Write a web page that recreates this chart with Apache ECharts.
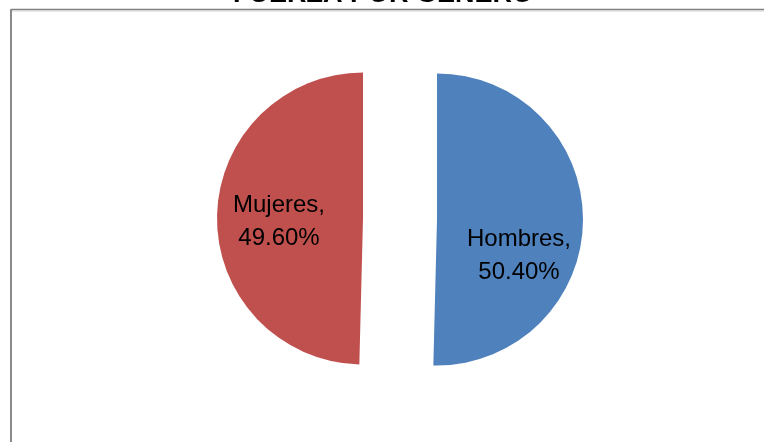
<!DOCTYPE html>
<html>
<head>
<meta charset="utf-8">
<script src="https://cdn.jsdelivr.net/npm/echarts@6/dist/echarts.min.js"></script>
<style>
html,body{margin:0;padding:0;background:#fff;}
#c{width:764px;height:442px;}
</style>
</head>
<body>
<div id="c"></div>
<script>
const titleText = 'FUERZA POR GÉNERO';
const categories = ['Hombres', 'Mujeres'];
const values = [50.40, 49.60];
const colors = ['#4F81BD', '#C0504D'];
const labelShifts = [[6, 35], [-8, 4]];

const chart = echarts.init(document.getElementById('c'), null, {renderer: 'canvas'});
const data = categories.map((name, i) => ({
  name: name,
  value: values[i],
  selected: true,
  itemStyle: {color: colors[i]}
}));

chart.setOption({
  animation: false,
  backgroundColor: '#ffffff',
  graphic: [
    {type: 'line', shape: {x1: 11, y1: 9.5, x2: 770, y2: 9.5}, style: {stroke: '#808080', lineWidth: 1.5}},
    {type: 'line', shape: {x1: 11, y1: 11, x2: 770, y2: 11}, style: {stroke: '#d0d0d0', lineWidth: 1}},
    {type: 'line', shape: {x1: 11, y1: 9, x2: 11, y2: 450}, style: {stroke: '#8a8a8a', lineWidth: 2}},
    {type: 'text', x: 383, y: -5.5, z: 10, style: {text: titleText, font: 'bold 27px "Liberation Sans", Arial, sans-serif', fill: '#000', align: 'center', verticalAlign: 'middle'}}
  ],
  series: [{
    type: 'pie',
    center: [400, 219],
    radius: [0, 146],
    startAngle: 90,
    clockwise: true,
    selectedMode: 'multiple',
    selectedOffset: 37,
    avoidLabelOverlap: false,
    emphasis: {disabled: true},
    select: {itemStyle: {borderWidth: 0}},
    itemStyle: {borderWidth: 0},
    label: {
      show: true,
      position: 'inside',
      formatter: p => p.name + ',\n' + p.value.toFixed(2) + '%',
      color: '#000',
      fontFamily: '"Liberation Sans", Arial, sans-serif',
      fontSize: 24,
      lineHeight: 33,
      align: 'center',
      textBorderWidth: 0
    },
    labelLayout: p => ({dx: labelShifts[p.dataIndex][0], dy: labelShifts[p.dataIndex][1]}),
    labelLine: {show: false},
    data: data
  }]
});
</script>
</body>
</html>
